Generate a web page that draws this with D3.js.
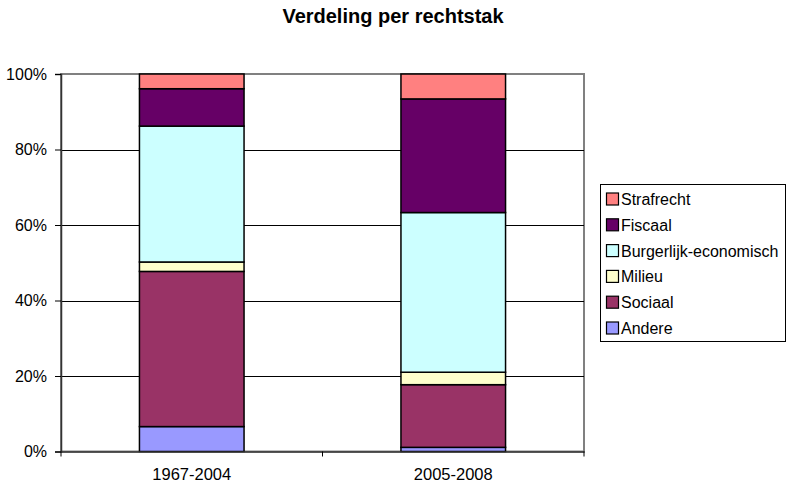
<!doctype html>
<html lang="nl">
<head>
<meta charset="utf-8">
<script src="https://d3js.org/d3.v7.min.js"></script>
<style>
  body { margin: 0; background: #fff; }
  text { font-family: "Liberation Sans", Arial, sans-serif; }
</style>
</head>
<body>
<svg width="792" height="483"></svg>
<script>
// data (percent of cases per branch of law)
var periods = ["1967-2004", "2005-2008"];
var branches = ["Andere", "Sociaal", "Milieu", "Burgerlijk-economisch", "Fiscaal", "Strafrecht"];
var andere = [6.6, 1.1];
var sociaal = [41.1, 16.6];
var milieu = [2.5, 3.3];
var burgerlijk = [36.0, 42.3];
var fiscaal = [9.9, 30.1];
var strafrecht = [3.9, 6.6];
var yTicks = [0, 20, 40, 60, 80, 100];
var colors = ["#9999ff", "#993366", "#ffffcc", "#ccffff", "#660066", "#ff8080"];

var seriesValues = [andere, sociaal, milieu, burgerlijk, fiscaal, strafrecht];
var rows = periods.map(function(p, i){
  var r = { period: p };
  branches.forEach(function(b, j){ r[b] = seriesValues[j][i]; });
  return r;
});
var stacked = d3.stack().keys(branches)(rows);

var svg = d3.select("svg");
var plotLeft = 61, plotRight = 584, plotTop = 74, plotBottom = 451.5;

var x = d3.scaleBand().domain(periods).range([plotLeft, plotRight])
  .paddingInner(0.6).paddingOuter(0.3);
var y = d3.scaleLinear().domain([0, 100]).range([plotBottom, plotTop]);
var color = d3.scaleOrdinal().domain(branches).range(colors);

// title
svg.append("text")
  .attr("x", 393).attr("y", 23)
  .attr("text-anchor", "middle")
  .attr("font-size", 20).attr("font-weight", "bold")
  .text("Verdeling per rechtstak");

// plot border (grey)
svg.append("rect")
  .attr("x", plotLeft).attr("y", plotTop)
  .attr("width", plotRight - plotLeft).attr("height", plotBottom - plotTop)
  .attr("fill", "none").attr("stroke", "#808080").attr("stroke-width", 2);

// gridlines
svg.append("g").selectAll("line")
  .data(yTicks.filter(function(t){ return t > 0 && t < 100; }))
  .enter().append("line")
  .attr("x1", plotLeft).attr("x2", plotRight)
  .attr("y1", function(d){ return Math.round(y(d)) + 0.5; })
  .attr("y2", function(d){ return Math.round(y(d)) + 0.5; })
  .attr("stroke", "#000").attr("stroke-width", 1);

// bars
svg.append("g").selectAll("g")
  .data(stacked)
  .enter().append("g")
  .attr("fill", function(d){ return color(d.key); })
  .selectAll("rect")
  .data(function(d){ return d; })
  .enter().append("rect")
  .attr("x", function(d){ return x(d.data.period); })
  .attr("width", x.bandwidth())
  .attr("y", function(d){ return y(d[1]); })
  .attr("height", function(d){ return y(d[0]) - y(d[1]); })
  .attr("stroke", "#000").attr("stroke-width", 1.5);

// y axis
var yAxis = d3.axisLeft(y).tickValues(yTicks).tickSize(6).tickPadding(8)
  .tickFormat(function(d){ return d + "%"; });
var gy = svg.append("g").attr("transform", "translate(" + plotLeft + ",0)").call(yAxis);
gy.select(".domain").attr("stroke", "#333").attr("stroke-width", 1.5);
gy.selectAll(".tick line").attr("stroke", "#000");
gy.selectAll("text").attr("font-size", 16).attr("fill", "#000")
  .style("font-family", "Liberation Sans, Arial, sans-serif");

// x axis
var xAxis = d3.axisBottom(x).tickSize(0).tickPadding(17);
var gx = svg.append("g").attr("transform", "translate(0," + plotBottom + ")").call(xAxis);
gx.select(".domain").attr("stroke", "#333").attr("stroke-width", 1.5);
gx.selectAll("text").attr("font-size", 16.5).attr("fill", "#000")
  .style("font-family", "Liberation Sans, Arial, sans-serif");
// category boundary ticks
gx.selectAll(".sep")
  .data([plotLeft, plotLeft + (plotRight - plotLeft) / 2, plotRight])
  .enter().append("line")
  .attr("x1", function(d){ return d; }).attr("x2", function(d){ return d; })
  .attr("y1", 0).attr("y2", 5)
  .attr("stroke", "#000");

// legend
var legendItems = branches.slice().reverse();
var lg = svg.append("g");
lg.append("rect")
  .attr("x", 600.5).attr("y", 184.5)
  .attr("width", 185).attr("height", 157)
  .attr("fill", "#fff").attr("stroke", "#000").attr("stroke-width", 1);
var li = lg.selectAll("g.item")
  .data(legendItems)
  .enter().append("g").attr("class", "item")
  .attr("transform", function(d, i){ return "translate(606," + (199 + i * 25.8) + ")"; });
li.append("rect")
  .attr("x", 0.5).attr("y", -6).attr("width", 12).attr("height", 12)
  .attr("fill", function(d){ return color(d); })
  .attr("stroke", "#000").attr("stroke-width", 1.2);
li.append("text")
  .attr("x", 15).attr("y", 6)
  .attr("font-size", 16)
  .text(function(d){ return d; });
</script>
</body>
</html>
